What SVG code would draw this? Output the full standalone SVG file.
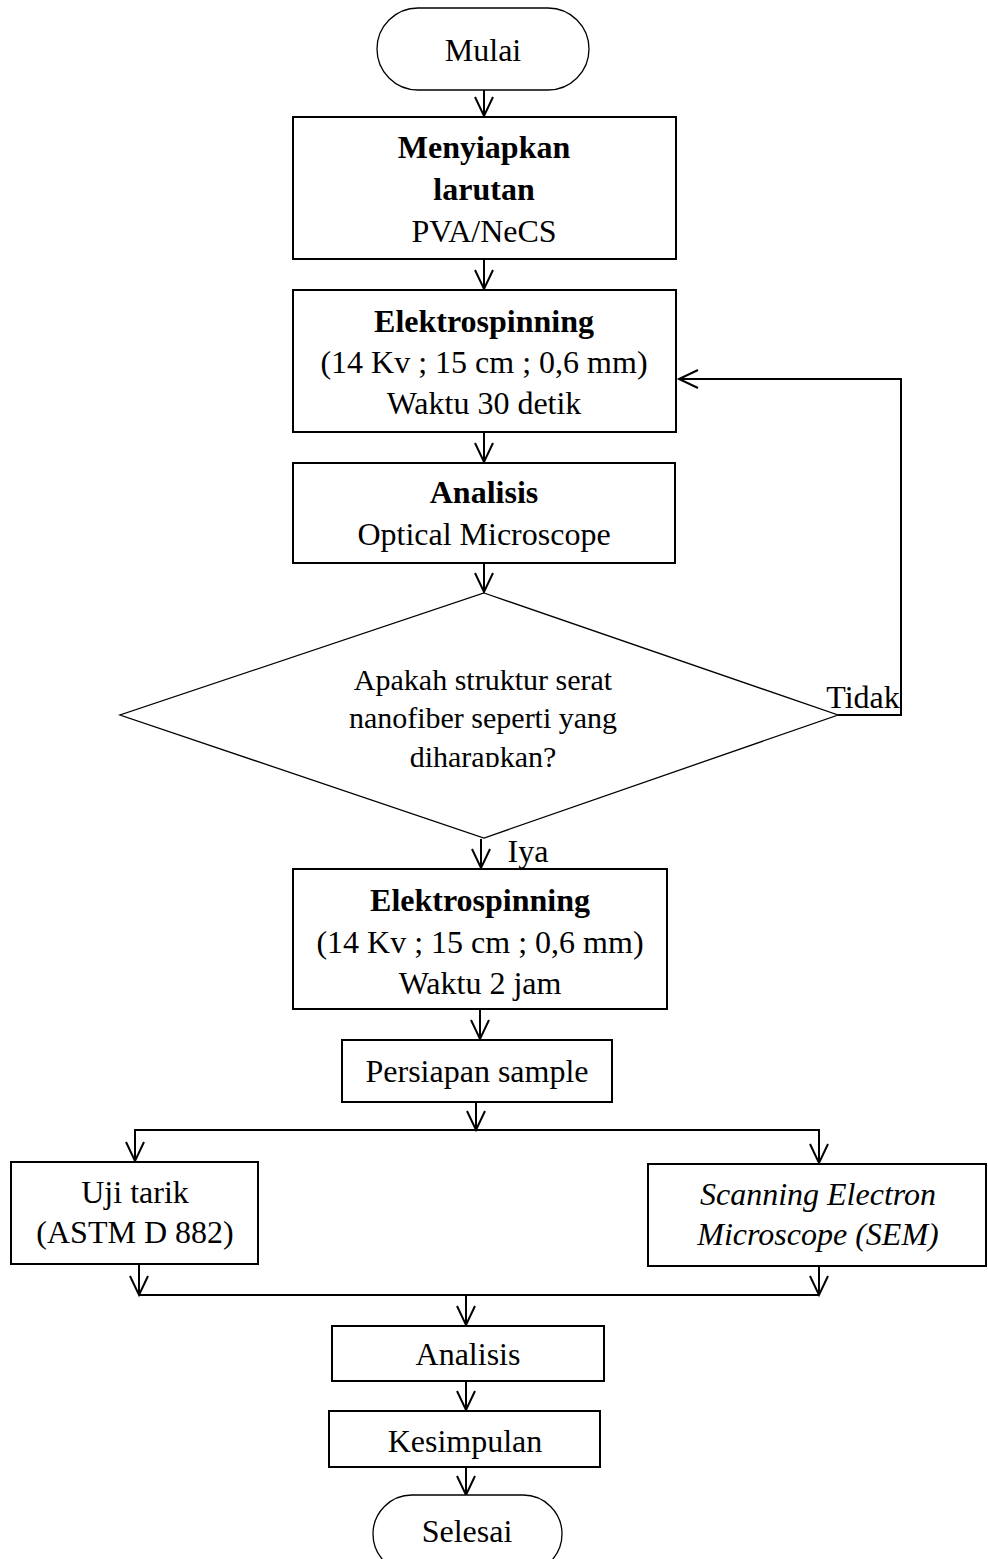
<svg xmlns="http://www.w3.org/2000/svg" width="988" height="1559" viewBox="0 0 988 1559">
<style>
.box{fill:#fff;stroke:#000;stroke-width:2}
.term{fill:#fff;stroke:#000;stroke-width:1.3}
.dia{fill:#fff;stroke:#000;stroke-width:1.3}
.t{font-family:"Liberation Serif","Times New Roman",serif;font-size:32px;text-anchor:middle;fill:#000}
.d{font-family:"Liberation Serif","Times New Roman",serif;font-size:30px;text-anchor:middle;fill:#000}
.b{font-weight:bold}
.i{font-style:italic}
.c{fill:none;stroke:#000;stroke-width:2}
.ar{fill:none;stroke:#000;stroke-width:2}
</style>
<defs>
<marker id="ah" markerUnits="userSpaceOnUse" markerWidth="24" markerHeight="24" refX="20" refY="10" orient="auto" viewBox="0 0 24 20">
<path class="ar" d="M1,1 L20,10 L1,19"/>
</marker>
<clipPath id="dclip"><rect x="0" y="0" width="988" height="767"/></clipPath>
</defs>
<rect width="988" height="1559" fill="#fff"/>

<g id="connectors">
<line class="c" x1="484" y1="90" x2="484" y2="116" marker-end="url(#ah)"/>
<line class="c" x1="484" y1="259" x2="484" y2="289" marker-end="url(#ah)"/>
<line class="c" x1="484" y1="432" x2="484" y2="462" marker-end="url(#ah)"/>
<line class="c" x1="484" y1="563" x2="484" y2="592" marker-end="url(#ah)"/>
<polyline class="c" points="838,715 901,715 901,379 679,379" marker-end="url(#ah)"/>
<line class="c" x1="481" y1="839" x2="481" y2="868" marker-end="url(#ah)"/>
<line class="c" x1="480" y1="1009" x2="480" y2="1039" marker-end="url(#ah)"/>
<line class="c" x1="476" y1="1102" x2="476" y2="1130" marker-end="url(#ah)"/>
<polyline class="c" points="135,1161 135,1130 819,1130 819,1163"/>
<line class="c" x1="135" y1="1130" x2="135" y2="1161" marker-end="url(#ah)"/>
<line class="c" x1="819" y1="1130" x2="819" y2="1163" marker-end="url(#ah)"/>
<line class="c" x1="139" y1="1264" x2="139" y2="1295" marker-end="url(#ah)"/>
<line class="c" x1="819" y1="1266" x2="819" y2="1295" marker-end="url(#ah)"/>
<line class="c" x1="139" y1="1295" x2="819" y2="1295"/>
<line class="c" x1="466" y1="1295" x2="466" y2="1325" marker-end="url(#ah)"/>
<line class="c" x1="466" y1="1381" x2="466" y2="1410" marker-end="url(#ah)"/>
<line class="c" x1="466" y1="1467" x2="466" y2="1495" marker-end="url(#ah)"/>
</g>

<g id="mulai">
<rect class="term" x="377" y="8" width="212" height="82" rx="41" ry="41"/>
<text class="t" x="483" y="61">Mulai</text>
</g>

<g id="menyiapkan">
<rect class="box" x="293" y="117" width="383" height="142"/>
<text class="t b" x="484" y="158">Menyiapkan</text>
<text class="t b" x="484" y="200">larutan</text>
<text class="t" x="484" y="242">PVA/NeCS</text>
</g>

<g id="elektro1">
<rect class="box" x="293" y="290" width="383" height="142"/>
<text class="t b" x="484" y="332">Elektrospinning</text>
<text class="t" x="484" y="373">(14 Kv ; 15 cm ; 0,6 mm)</text>
<text class="t" x="484" y="414">Waktu 30 detik</text>
</g>

<g id="analisis1">
<rect class="box" x="293" y="463" width="382" height="100"/>
<text class="t b" x="484" y="503">Analisis</text>
<text class="t" x="484" y="545">Optical Microscope</text>
</g>

<g id="keputusan">
<polygon class="dia" points="484,593 838,715 484,838 120,715"/>
<g clip-path="url(#dclip)">
<text class="d" x="483" y="690">Apakah struktur serat</text>
<text class="d" x="483" y="728">nanofiber seperti yang</text>
<text class="d" x="483" y="767">diharapkan?</text>
</g>
<text class="t" x="863" y="708">Tidak</text>
<text class="t" x="528" y="862">Iya</text>
</g>

<g id="elektro2">
<rect class="box" x="293" y="869" width="374" height="140"/>
<text class="t b" x="480" y="911">Elektrospinning</text>
<text class="t" x="480" y="953">(14 Kv ; 15 cm ; 0,6 mm)</text>
<text class="t" x="480" y="994">Waktu 2 jam</text>
</g>

<g id="persiapan">
<rect class="box" x="342" y="1040" width="270" height="62"/>
<text class="t" x="477" y="1082">Persiapan sample</text>
</g>

<g id="ujitarik">
<rect class="box" x="11" y="1162" width="247" height="102"/>
<text class="t" x="135" y="1203">Uji tarik</text>
<text class="t" x="135" y="1243">(ASTM D 882)</text>
</g>

<g id="sem">
<rect class="box" x="648" y="1164" width="338" height="102"/>
<text class="t i" x="818" y="1205">Scanning Electron</text>
<text class="t i" x="818" y="1245">Microscope (SEM)</text>
</g>

<g id="analisis2">
<rect class="box" x="332" y="1326" width="272" height="55"/>
<text class="t" x="468" y="1365">Analisis</text>
</g>

<g id="kesimpulan">
<rect class="box" x="329" y="1411" width="271" height="56"/>
<text class="t" x="465" y="1452">Kesimpulan</text>
</g>

<g id="selesai">
<rect class="term" x="373" y="1495" width="189" height="78" rx="39" ry="39"/>
<text class="t" x="467" y="1542">Selesai</text>
</g>
</svg>
